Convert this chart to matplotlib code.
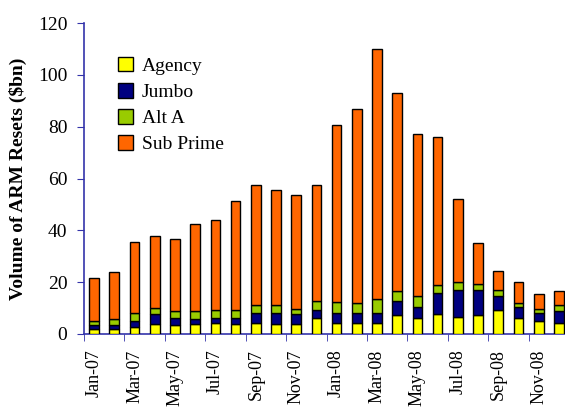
import matplotlib
matplotlib.use("Agg")
import matplotlib.pyplot as plt
import numpy as np

months = ["Jan-07", "Feb-07", "Mar-07", "Apr-07", "May-07", "Jun-07",
          "Jul-07", "Aug-07", "Sep-07", "Oct-07", "Nov-07", "Dec-07",
          "Jan-08", "Feb-08", "Mar-08", "Apr-08", "May-08", "Jun-08",
          "Jul-08", "Aug-08", "Sep-08", "Oct-08", "Nov-08", "Dec-08"]

# $bn
agency = [1.8, 2.1, 2.7, 4.0, 3.4, 4.0, 4.4, 3.8, 4.3, 3.8, 3.8, 6.1,
          4.4, 4.4, 4.4, 7.4, 6.1, 7.9, 6.7, 7.4, 9.2, 6.1, 5.0, 4.4]
jumbo = [1.6, 1.4, 2.3, 3.6, 2.9, 1.7, 1.9, 2.5, 3.9, 4.4, 3.8, 3.2,
         3.8, 3.8, 3.8, 5.4, 4.5, 7.9, 10.4, 9.7, 5.6, 4.4, 3.0, 4.3]
alt_a = [1.6, 2.2, 3.0, 2.4, 2.4, 3.0, 2.9, 2.9, 2.9, 2.9, 2.2, 3.5,
         4.0, 3.6, 5.3, 3.6, 4.2, 3.1, 2.8, 2.2, 2.2, 1.5, 1.6, 2.4]
sub_prime = [16.5, 18.3, 27.5, 28.0, 27.8, 33.8, 34.8, 42.3, 46.4, 44.4, 43.7, 44.7,
             68.3, 75.2, 96.5, 76.6, 62.2, 57.1, 32.1, 15.7, 7.5, 8.0, 5.8, 5.6]

series = [("Agency", agency, "#ffff00"),
          ("Jumbo", jumbo, "#000080"),
          ("Alt A", alt_a, "#99cc00"),
          ("Sub Prime", sub_prime, "#ff6600")]

plt.rcParams["font.family"] = ["Liberation Serif", "DejaVu Serif"]

fig = plt.figure(figsize=(5.65, 4.07), dpi=100)
ax = fig.add_axes([84 / 565, 73 / 407, 485 / 565, 311 / 407])

x = np.arange(len(months))
bottom = np.zeros(len(months))
for name, vals, col in series:
    ax.bar(x, vals, 0.48, bottom=bottom, color=col, edgecolor="black",
           linewidth=1, label=name, zorder=3)
    bottom += np.array(vals)

ax.set_xlim(-0.5, len(months) - 0.5)
ax.set_ylim(0, 120)
ax.set_yticks(range(0, 121, 20))
ax.tick_params(axis="y", labelsize=14, length=5, pad=7, color="#3333aa")

ax.set_xticks(x[::2])
ax.set_xticklabels(months[::2], rotation=90, fontsize=13)
ax.set_xticks(np.arange(-0.5, len(months), 2), minor=True)
ax.tick_params(axis="x", which="major", length=0, pad=11)
ax.tick_params(axis="x", which="minor", length=5, color="#3333aa")

for s in ("top", "right"):
    ax.spines[s].set_visible(False)
for s in ("left", "bottom"):
    ax.spines[s].set_color("#3333aa")
    ax.spines[s].set_linewidth(1.2)

ax.set_ylabel("Volume of ARM Resets ($bn)", fontsize=14, fontweight="bold",
              labelpad=8)

ax.legend(loc="upper left", bbox_to_anchor=(0.055, 0.915), frameon=False,
          fontsize=14, handlelength=0.75, handleheight=0.75, handletextpad=0.45,
          labelspacing=0.42, borderaxespad=0)

fig.savefig("out.png", dpi=100)
